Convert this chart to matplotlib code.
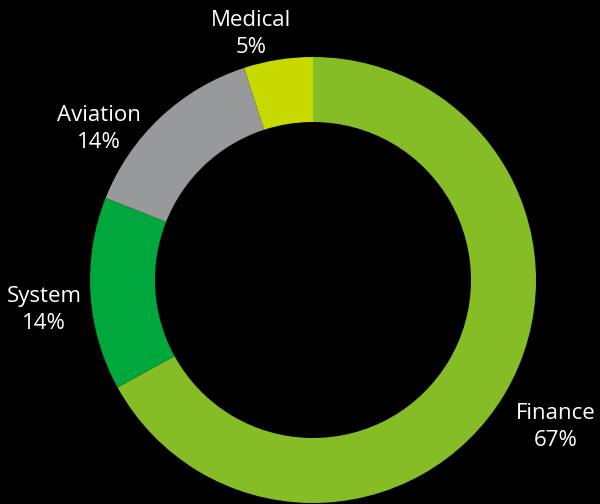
import matplotlib
matplotlib.use('Agg')
import matplotlib.pyplot as plt

# sector data, clockwise from 12 o'clock
sectors = ['Finance', 'System', 'Aviation', 'Medical']
shares = [67, 14, 14, 5]
colors = ['#86BC25', '#00A73C', '#97999B', '#C8D900']

# label anchors in pixel space (x, y from top)
label_pos = [(556, 427), (44, 310), (99, 129), (251, 34)]

plt.rcParams['font.family'] = ['Open Sans', 'DejaVu Sans']

fig = plt.figure(figsize=(6, 5.04), dpi=100, facecolor='black')
ax = fig.add_axes([0, 0, 1, 1])
ax.set_facecolor('black')

ax.pie(shares, colors=colors, startangle=90, counterclock=False,
       center=(313, 224), radius=223, frame=True,
       wedgeprops=dict(width=65, linewidth=0))
ax.set_xlim(0, 600)
ax.set_ylim(0, 504)
ax.set_aspect('equal')
ax.axis('off')

for name, val, (x, y) in zip(sectors, shares, label_pos):
    ax.text(x, 504 - y, f'{name}\n{val}%', color='white', fontsize=16,
            ha='center', va='center', linespacing=1.35)

fig.savefig('out.png', dpi=100, facecolor='black')
